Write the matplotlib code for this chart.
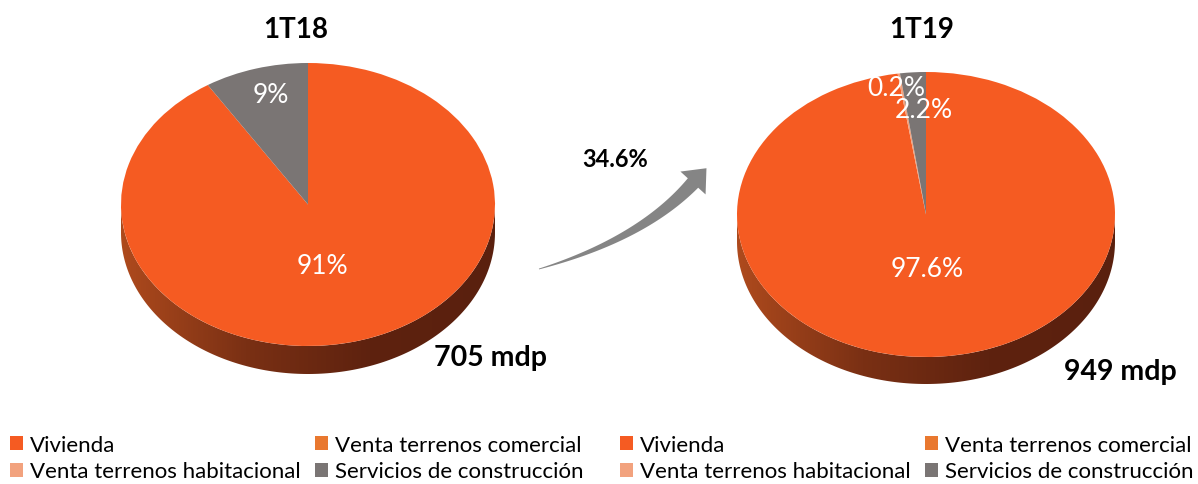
import numpy as np
import matplotlib.pyplot as plt
from matplotlib.patches import Patch, Polygon
from matplotlib.colors import LinearSegmentedColormap

plt.rcParams['font.family'] = ['Lato', 'DejaVu Sans']

# Data
categories = ['Vivienda', 'Venta terrenos comercial',
              'Venta terrenos habitacional', 'Servicios de construcción']
colors = ['#F55B22', '#E9782F', '#F2A27E', '#7A7574']
share_1t18 = [91.0, 0.0, 0.0, 9.0]
share_1t19 = [97.6, 0.0, 0.2, 2.2]
labels_1t18 = ['91%', '', '', '9%']
labels_1t19 = ['97.6%', '', '0.2%', '2.2%']
titles = ['1T18', '1T19']
totals = ['705 mdp', '949 mdp']
growth = '34.6%'

W, H = 1198, 485
fig = plt.figure(figsize=(W / 100, H / 100), dpi=100)

side_cmap = LinearSegmentedColormap.from_list(
    'side', ['#AE4A1D', '#7A3014', '#5E220F', '#5A200E'])


def pie3d(cx, cy, rx, ry, depth, values, labels, label_pos):
    d = depth / ry
    ax = fig.add_axes([(cx - rx) / W, 1 - (cy + ry + depth) / H,
                       2 * rx / W, (2 * ry + depth) / H])
    wedges, _ = ax.pie(values, colors=colors, startangle=90, counterclock=False,
                       radius=1, wedgeprops=dict(linewidth=0))
    for w in wedges:
        w.set_zorder(2)
    # side of the disc
    th = np.linspace(np.pi, 2 * np.pi, 200)
    top = np.column_stack([np.cos(th), np.sin(th)])
    bot = np.column_stack([np.cos(th[::-1]), np.sin(th[::-1]) - d])
    side = Polygon(np.vstack([top, bot]), closed=True, facecolor='none',
                   edgecolor='none')
    ax.add_patch(side)
    grad = np.linspace(0, 1, 256).reshape(1, -1)
    im = ax.imshow(grad, cmap=side_cmap, extent=(-1, 1, -1 - d, 0),
                   aspect='auto', zorder=1)
    im.set_clip_path(side)
    ax.set_aspect('auto')
    ax.set_xlim(-1, 1)
    ax.set_ylim(-1 - d, 1)
    ax.axis('off')
    for lab, pos in zip(labels, label_pos):
        if lab:
            ax.text(pos[0], pos[1], lab, color='white', fontsize=19, ha='center',
                    va='center', zorder=3)
    return ax


pie3d(308, 205.5, 187, 141.5, 28, share_1t18, labels_1t18,
      [(0.075, -0.43), None, None, (-0.20, 0.78)])
pie3d(926, 215.5, 189, 142.5, 27, share_1t19, labels_1t19,
      [(0.005, -0.38), None, (-0.16, 0.89), (-0.01, 0.74)])

# overlay in pixel coordinates for text and arrow
ov = fig.add_axes([0, 0, 1, 1])
ov.set_xlim(0, W)
ov.set_ylim(H, 0)
ov.axis('off')

ov.text(296, 30, titles[0], fontsize=20, fontweight='bold', ha='center', va='center')
ov.text(922, 30, titles[1], fontsize=20, fontweight='bold', ha='center', va='center')
ov.text(490, 358, totals[0], fontsize=20.5, fontweight='bold', ha='center', va='center')
ov.text(1120, 372, totals[1], fontsize=20.5, fontweight='bold', ha='center', va='center')
ov.text(615, 160, growth, fontsize=17, fontweight='bold', ha='center', va='center')

# curved tapered arrow
p0, p1, p2 = np.array([539, 270]), np.array([642, 240]), np.array([693, 184])
t = np.linspace(0, 1, 60)[:, None]
curve = (1 - t) ** 2 * p0 + 2 * (1 - t) * t * p1 + t ** 2 * p2
tang = 2 * (1 - t) * (p1 - p0) + 2 * t * (p2 - p1)
tang = tang / np.linalg.norm(tang, axis=1, keepdims=True)
norm = np.column_stack([-tang[:, 1], tang[:, 0]])
half = (0.4 + 6.6 * t)
upper = curve + norm * half
lower = curve - norm * half
tdir = tang[-1]
ndir = norm[-1]
head = [p2 + ndir * 17, p2 + tdir * 20, p2 - ndir * 17]
arrow_pts = np.vstack([upper, head, lower[::-1]])
ov.add_patch(Polygon(arrow_pts, closed=True, facecolor='#858585', edgecolor='none'))

# legends
handles = [Patch(facecolor=c, edgecolor='none') for c in colors]
order = [0, 2, 1, 3]
for x0 in (0.0046, 0.5135):
    fig.legend([handles[i] for i in order], [categories[i] for i in order],
               loc='lower left', bbox_to_anchor=(x0, -0.004), ncol=2,
               frameon=False, fontsize=16, handlelength=0.6, handleheight=0.6,
               handletextpad=0.3, columnspacing=0.65, labelspacing=0.28,
               borderpad=0.2, borderaxespad=0)

fig.savefig('out.png', dpi=100)
